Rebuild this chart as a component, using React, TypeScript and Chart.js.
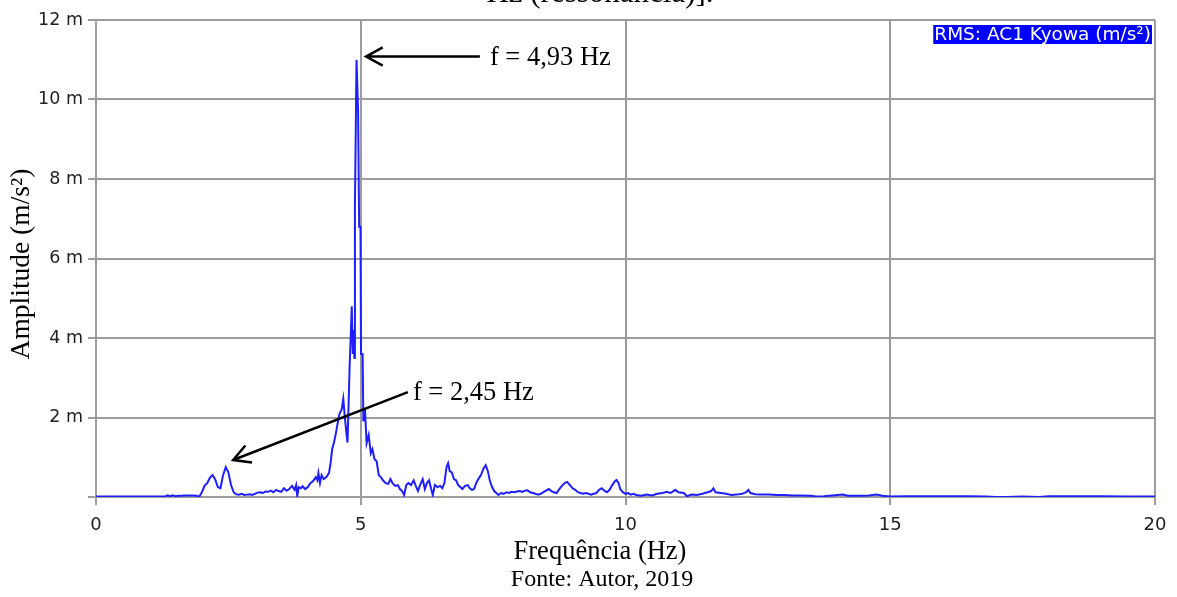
import React, { useEffect, useRef } from "react";
import { Chart, registerables } from "chart.js";

Chart.register(...registerables);

// Frequency (Hz) and RMS amplitude (m/s², in "m" = milli units)
const FREQ = [
  0, 0.5, 1.0, 1.3, 1.35, 1.4, 1.45, 1.5, 1.55, 1.6, 1.7, 1.8, 1.9, 1.95,
  2.0, 2.05, 2.1, 2.15, 2.2, 2.25, 2.3, 2.35, 2.4, 2.45, 2.5, 2.55, 2.6, 2.65, 2.7, 2.75,
  2.8, 2.85, 2.9, 2.95, 3.0, 3.05, 3.1, 3.15, 3.2, 3.25, 3.3, 3.35, 3.4, 3.45, 3.5, 3.55,
  3.6, 3.65, 3.7, 3.75, 3.78, 3.8, 3.83, 3.87, 3.9, 3.95, 4.0, 4.05, 4.1, 4.15, 4.18, 4.2,
  4.23, 4.26, 4.3, 4.35, 4.4, 4.43, 4.46, 4.5, 4.53, 4.57, 4.6, 4.64, 4.67, 4.7, 4.73, 4.75,
  4.77, 4.79, 4.81, 4.83, 4.85, 4.86, 4.88, 4.89, 4.92, 4.95, 4.97, 4.995, 5.005, 5.035, 5.05,
  5.08, 5.11, 5.15, 5.19, 5.22, 5.26, 5.3, 5.34, 5.38, 5.42, 5.47, 5.52, 5.56, 5.6, 5.65,
  5.7, 5.74, 5.78, 5.82, 5.86, 5.9, 5.95, 6.0, 6.04, 6.08, 6.12, 6.17, 6.21, 6.25, 6.29,
  6.33, 6.36, 6.4, 6.45, 6.5, 6.54, 6.58, 6.62, 6.65, 6.68, 6.72, 6.76, 6.8, 6.84, 6.88,
  6.92, 6.97, 7.02, 7.06, 7.1, 7.14, 7.18, 7.22, 7.27, 7.32, 7.36, 7.4, 7.44, 7.48, 7.52,
  7.56, 7.6, 7.65, 7.7, 7.75, 7.8, 7.85, 7.9, 7.95, 8.0, 8.05, 8.1, 8.15, 8.2, 8.25, 8.3,
  8.35, 8.4, 8.45, 8.5, 8.55, 8.6, 8.65, 8.7, 8.75, 8.8, 8.85, 8.9, 8.95, 9.0, 9.05, 9.1,
  9.15, 9.2, 9.25, 9.3, 9.35, 9.4, 9.45, 9.5, 9.55, 9.6, 9.65, 9.7, 9.75, 9.8, 9.83, 9.87,
  9.9, 9.95, 10.0, 10.05, 10.1, 10.15, 10.2, 10.3, 10.4, 10.5, 10.6, 10.7, 10.78, 10.85,
  10.94, 11.0, 11.1, 11.16, 11.25, 11.35, 11.45, 11.55, 11.62, 11.66, 11.7, 11.8, 11.9,
  12.0, 12.1, 12.2, 12.28, 12.32, 12.36, 12.45, 12.55, 12.7, 12.85, 13.0, 13.15, 13.3,
  13.5, 13.6, 13.75, 13.9, 14.1, 14.2, 14.4, 14.6, 14.74, 14.85, 15.0, 15.3, 15.6, 15.9,
  16.2, 16.5, 16.8, 17.0, 17.2, 17.5, 17.8, 18.0, 18.3, 18.6, 19.0, 19.5, 20.0,
];

const AMP = [
  0.01, 0.01, 0.01, 0.01, 0.04, 0.02, 0.04, 0.02, 0.03, 0.03, 0.04, 0.04, 0.03, 0.01,
  0.12, 0.28, 0.35, 0.48, 0.55, 0.45, 0.25, 0.22, 0.55, 0.75, 0.62, 0.3, 0.12, 0.07, 0.06, 0.08,
  0.05, 0.06, 0.07, 0.05, 0.08, 0.11, 0.12, 0.1, 0.14, 0.13, 0.16, 0.12, 0.18, 0.15, 0.13, 0.22,
  0.16, 0.2, 0.28, 0.18, 0.3, 0.02, 0.25, 0.22, 0.27, 0.2, 0.25, 0.35, 0.4, 0.5, 0.42, 0.6,
  0.35, 0.55, 0.45, 0.5, 0.6, 0.85, 1.2, 1.4, 1.6, 1.9, 2.1, 2.2, 2.47, 2.0, 1.6, 1.37,
  2.3, 3.3, 4.0, 4.8, 3.6, 4.2, 3.5, 7.3, 11.0, 9.7, 6.8, 6.8, 3.6, 3.6, 1.9,
  2.2, 1.35, 1.56, 1.1, 1.2, 0.95, 0.9, 0.55, 0.5, 0.42, 0.35, 0.33, 0.45, 0.35, 0.28,
  0.3, 0.2, 0.15, 0.05, 0.3, 0.35, 0.3, 0.42, 0.28, 0.15, 0.3, 0.45, 0.2, 0.35, 0.42,
  0.2, 0.05, 0.3, 0.25, 0.28, 0.22, 0.35, 0.75, 0.85, 0.65, 0.62, 0.45, 0.42, 0.3, 0.25,
  0.2, 0.28, 0.3, 0.22, 0.18, 0.2, 0.35, 0.45, 0.55, 0.72, 0.8, 0.65, 0.4, 0.25, 0.15,
  0.1, 0.05, 0.1, 0.08, 0.12, 0.1, 0.13, 0.12, 0.14, 0.15, 0.13, 0.16, 0.17, 0.12, 0.1, 0.08,
  0.06, 0.08, 0.12, 0.16, 0.2, 0.15, 0.12, 0.1, 0.2, 0.28, 0.35, 0.38, 0.3, 0.22, 0.18, 0.12,
  0.1, 0.08, 0.1, 0.08, 0.06, 0.08, 0.1, 0.18, 0.22, 0.16, 0.12, 0.18, 0.3, 0.4, 0.43, 0.35,
  0.2, 0.12, 0.08, 0.1, 0.06, 0.08, 0.05, 0.03, 0.06, 0.04, 0.08, 0.1, 0.13, 0.1,
  0.18, 0.12, 0.1, 0.02, 0.06, 0.05, 0.08, 0.12, 0.15, 0.22, 0.12, 0.1, 0.08,
  0.05, 0.06, 0.08, 0.12, 0.18, 0.1, 0.07, 0.06, 0.06, 0.05, 0.05, 0.04, 0.04,
  0.03, 0.01, 0.02, 0.04, 0.06, 0.03, 0.03, 0.04, 0.06, 0.03, 0.01, 0.02, 0.02, 0.02,
  0.02, 0.02, 0.01, 0.0, 0.0, 0.01, 0.0, 0.02, 0.02, 0.02, 0.02, 0.01, 0.01,
];

const X_TICKS = [0, 5, 10, 15, 20];
const Y_TICKS = [0, 2, 4, 6, 8, 10, 12];
const SERIES_LABEL = "RMS: AC1 Kyowa (m/s²)";
const X_TITLE = "Frequência (Hz)";
const Y_TITLE = "Amplitude (m/s²)";
const SOURCE = "Fonte: Autor, 2019";
const TOP_CAPTION = "Hz (ressonância)].";
// annotation labels and their arrows (data units: [Hz, m])
const PEAK_LABELS = ["f = 4,93 Hz", "f = 2,45 Hz"];
const ARROW_TIPS = [[5.1, 11.08], [2.59, 0.93]];
const ARROW_TAILS = [[7.25, 11.08], [5.89, 2.64]];

const SERIF = '"Liberation Serif", "Times New Roman", serif';
const SANS = '"DejaVu Sans", sans-serif';
const GRID = "#9c9c9c";

function drawArrow(ctx, x1, y1, x2, y2) {
  ctx.beginPath();
  ctx.moveTo(x1, y1);
  ctx.lineTo(x2, y2);
  const ang = Math.atan2(y1 - y2, x1 - x2);
  const len = 19;
  const spread = 0.5;
  ctx.moveTo(x2 + len * Math.cos(ang + spread), y2 + len * Math.sin(ang + spread));
  ctx.lineTo(x2, y2);
  ctx.lineTo(x2 + len * Math.cos(ang - spread), y2 + len * Math.sin(ang - spread));
  ctx.stroke();
}

const overlayPlugin = {
  id: "overlay",
  afterDraw(chart) {
    const { ctx, chartArea: ca, scales } = chart;
    const xs = scales.x;
    const ys = scales.y;
    ctx.save();

    // partially cut caption at very top
    ctx.fillStyle = "#000";
    ctx.font = `31px ${SERIF}`;
    ctx.textAlign = "center";
    ctx.textBaseline = "alphabetic";
    ctx.fillText(TOP_CAPTION, 600, 2);

    // legend box
    ctx.font = `18.5px ${SANS}`;
    const tw = ctx.measureText(SERIES_LABEL).width;
    const bx = ca.right - 3 - tw - 2;
    ctx.fillStyle = "#0000ff";
    ctx.fillRect(bx, ca.top + 5, tw + 2, 19);
    ctx.fillStyle = "#fff";
    ctx.textAlign = "left";
    ctx.textBaseline = "middle";
    ctx.fillText(SERIES_LABEL, bx + 1, ca.top + 15);

    // annotation 1 (main peak) with white label background
    ctx.strokeStyle = "#000";
    ctx.lineWidth = 2.5;
    const t1 = [xs.getPixelForValue(ARROW_TIPS[0][0]), ys.getPixelForValue(ARROW_TIPS[0][1])];
    const s1 = [xs.getPixelForValue(ARROW_TAILS[0][0]), ys.getPixelForValue(ARROW_TAILS[0][1])];
    ctx.font = `26.5px ${SERIF}`;
    const lw1 = ctx.measureText(PEAK_LABELS[0]).width;
    ctx.fillStyle = "#fff";
    ctx.fillRect(s1[0] + 3, s1[1] - 14, lw1 + 20, 29);
    drawArrow(ctx, s1[0], s1[1], t1[0], t1[1]);
    ctx.fillStyle = "#000";
    ctx.textAlign = "left";
    ctx.textBaseline = "middle";
    ctx.fillText(PEAK_LABELS[0], s1[0] + 10, s1[1] + 1);

    // annotation 2 (first mode)
    const t2 = [xs.getPixelForValue(ARROW_TIPS[1][0]), ys.getPixelForValue(ARROW_TIPS[1][1])];
    const s2 = [xs.getPixelForValue(ARROW_TAILS[1][0]), ys.getPixelForValue(ARROW_TAILS[1][1])];
    drawArrow(ctx, s2[0], s2[1], t2[0], t2[1]);
    ctx.fillText(PEAK_LABELS[1], s2[0] + 5, s2[1] + 1);

    // axis titles and source
    ctx.textAlign = "center";
    ctx.font = `26.5px ${SERIF}`;
    ctx.fillText(X_TITLE, 600, 552);
    ctx.font = `24px ${SERIF}`;
    ctx.fillText(SOURCE, 602, 580);
    ctx.save();
    ctx.translate(22, 264);
    ctx.rotate(-Math.PI / 2);
    ctx.font = `27.5px ${SERIF}`;
    ctx.fillText(Y_TITLE, 0, 0);
    ctx.restore();

    ctx.restore();
  },
};

export default function App() {
  const ref = useRef(null);
  useEffect(() => {
    const points = FREQ.map((f, i) => ({ x: f, y: AMP[i] }));
    const chart = new Chart(ref.current, {
      type: "line",
      data: {
        datasets: [
          {
            label: SERIES_LABEL,
            data: points,
            borderColor: "rgb(30,30,255)",
            borderWidth: 2,
            pointRadius: 0,
            tension: 0,
            fill: false,
          },
        ],
      },
      options: {
        responsive: false,
        animation: false,
        events: [],
        layout: { padding: { left: 0, right: 22, top: 20, bottom: 0 } },
        plugins: { legend: { display: false }, tooltip: { enabled: false }, title: { display: false } },
        scales: {
          x: {
            type: "linear",
            min: 0,
            max: 20,
            afterFit: (s) => { s.height = 100; },
            afterBuildTicks: (s) => { s.ticks = X_TICKS.map((v) => ({ value: v })); },
            grid: { color: GRID, lineWidth: 2, tickLength: 8, drawTicks: true },
            border: { color: GRID, width: 2 },
            ticks: {
              color: "#222",
              font: { family: SANS, size: 18 },
              padding: 10,
              maxRotation: 0,
              callback: (v) => `${v}`,
            },
          },
          y: {
            min: 0,
            max: 12,
            afterFit: (s) => { s.width = 96; },
            afterBuildTicks: (s) => { s.ticks = Y_TICKS.map((v) => ({ value: v })); },
            grid: { color: GRID, lineWidth: 2, tickLength: 8, drawTicks: true },
            border: { color: GRID, width: 2 },
            ticks: {
              color: "#222",
              font: { family: SANS, size: 17.5 },
              padding: 5,
              callback: (v) => (v === 0 ? "" : `${v} m`),
            },
          },
        },
      },
      plugins: [overlayPlugin],
    });
    return () => chart.destroy();
  }, []);
  return (
    <div style={{ position: "fixed", left: 0, top: 0, width: 1177, height: 597, background: "#fff" }}>
      <canvas ref={ref} width={1177} height={597} style={{ display: "block" }} />
    </div>
  );
}
